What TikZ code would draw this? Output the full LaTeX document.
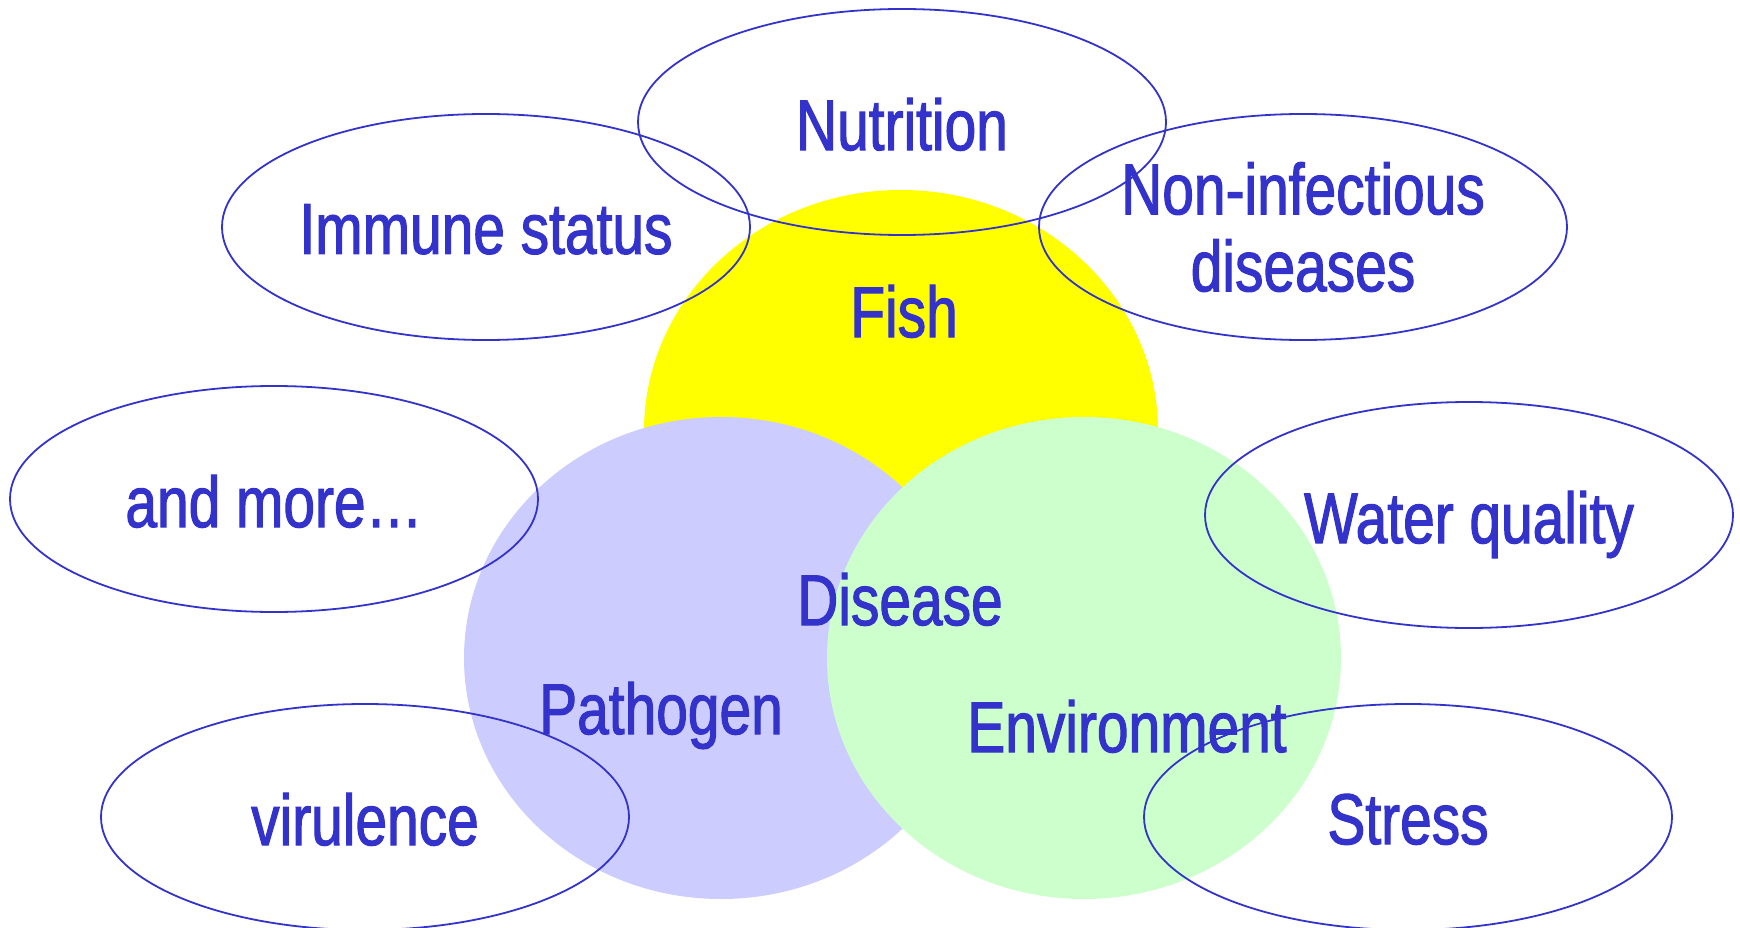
\documentclass[tikz,border=0pt]{standalone}
\usepackage{fontspec}
\setmainfont{Liberation Sans}[FakeStretch=0.79,FakeBold=1.5]
\usetikzlibrary{shapes.geometric}
\definecolor{tblue}{RGB}{51,51,204}
\definecolor{fishyellow}{RGB}{255,255,0}
\definecolor{pathlav}{RGB}{204,204,255}
\definecolor{envgreen}{RGB}{204,255,204}
\newcommand{\lblfont}{\fontsize{72}{77}\selectfont}
\begin{document}
\begin{tikzpicture}[x=1pt,y=-1pt,
  blob/.style={ellipse, minimum width=514pt, minimum height=482pt, inner sep=0pt, draw=none},
  factor/.style={ellipse, draw=tblue, line width=1.8pt, minimum width=528pt, minimum height=226pt, inner sep=0pt},
  lab/.style={text=tblue, font=\lblfont, inner sep=0pt, align=center},
  lab1/.style={lab, text depth=0pt, yshift=-2pt}]
\useasboundingbox (0,0) rectangle (1740,928);
% circles
\node[blob, fill=fishyellow] (fish) at (901,431) {};
\node[blob, fill=pathlav] (pathogen) at (721,658) {};
\node[blob, fill=envgreen] (environment) at (1084,658) {};
% factor ellipses
\node[factor] (nutrition) at (902,122) {};
\node[factor] (immune) at (486,227) {};
\node[factor] (noninf) at (1303,227) {};
\node[factor] (more) at (274,499) {};
\node[factor] (water) at (1469,515) {};
\node[factor] (virulence) at (365,817) {};
\node[factor] (stress) at (1408,817) {};
% factor labels
\node[lab1] (tnutrition) at (nutrition.center) {Nutrition};
\node[lab1] (timmune) at (immune.center) {Immune status};
\node[lab] (tnoninf) at (noninf.center) {Non-infectious\\diseases};
\node[lab1] (tmore) at (more.center) {and more…};
\node[lab1] (twater) at (water.center) {Water quality};
\node[lab1] (tvirulence) at (virulence.center) {virulence};
\node[lab1] (tstress) at (stress.center) {Stress};
% circle labels
\node[lab1] (tfish) at (904,309) {Fish};
\node[lab1] (tdisease) at (900,597) {Disease};
\node[lab1] (tpathogen) at (661,706) {Pathogen};
\node[lab1] (tenv) at (1127,724) {Environment};
\end{tikzpicture}
\end{document}
